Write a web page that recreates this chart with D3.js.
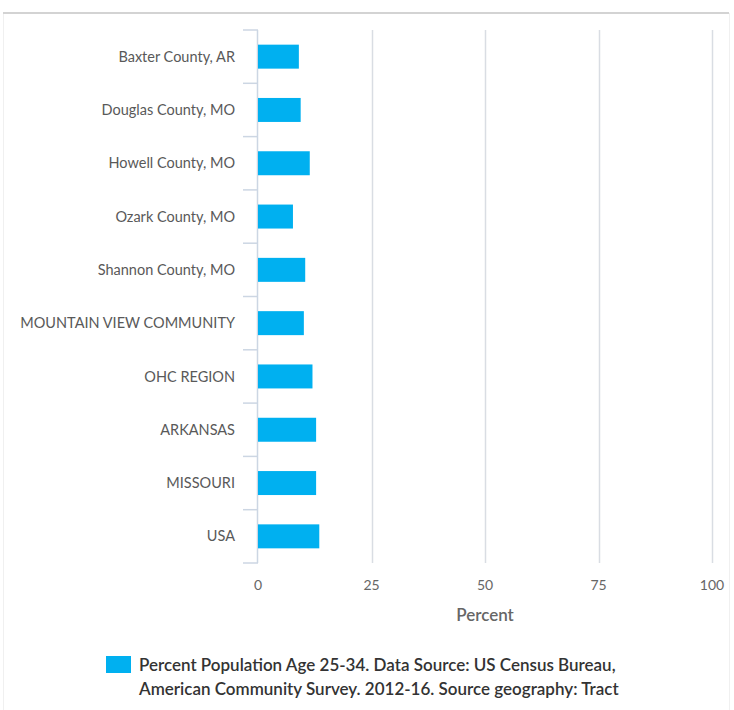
<!DOCTYPE html>
<html>
<head>
<meta charset="utf-8">
<script src="https://cdn.jsdelivr.net/npm/d3@7"></script>
<style>
  html, body { margin: 0; padding: 0; background: #fff; }
  svg { display: block; font-family: Lato, "Noto Sans", sans-serif; }
</style>
</head>
<body>
<svg id="chart" width="734" height="710"></svg>
<script>
// Share of population aged 25-34, by geography
const categories = [
  "Baxter County, AR",
  "Douglas County, MO",
  "Howell County, MO",
  "Ozark County, MO",
  "Shannon County, MO",
  "MOUNTAIN VIEW COMMUNITY",
  "OHC REGION",
  "ARKANSAS",
  "MISSOURI",
  "USA"
];
const values = [9.0, 9.4, 11.4, 7.7, 10.4, 10.1, 12.0, 12.8, 12.8, 13.5];
const xTicks = [0, 25, 50, 75, 100];
const xTitle = "Percent";
const legendLines = [
  "Percent Population Age 25-34. Data Source: US Census Bureau,",
  "American Community Survey. 2012-16. Source geography: Tract"
];

const svg = d3.select("#chart");

// panel frame
svg.append("line").attr("x1", 3.5).attr("x2", 3.5).attr("y1", 13).attr("y2", 710)
  .attr("stroke", "#f0f0f0").attr("stroke-width", 1);
svg.append("line").attr("x1", 729.5).attr("x2", 729.5).attr("y1", 13).attr("y2", 710)
  .attr("stroke", "#f0f0f0").attr("stroke-width", 1);
svg.append("line").attr("x1", 3).attr("x2", 729).attr("y1", 13).attr("y2", 13)
  .attr("stroke", "#d3d3d3").attr("stroke-width", 2);

const plot = { left: 258, right: 712, top: 30, bottom: 563 };

const x = d3.scaleLinear().domain([0, 100]).range([plot.left, plot.right]);
const y = d3.scaleBand().domain(categories).range([plot.top, plot.bottom]).paddingInner(0.55).paddingOuter(0.275);
const band = d3.scaleBand().domain(categories).range([plot.top, plot.bottom]);

// vertical gridlines
svg.append("g").selectAll("line").data(xTicks.filter(d => d > 0)).join("line")
  .attr("x1", d => Math.round(x(d)) + 0.5).attr("x2", d => Math.round(x(d)) + 0.5)
  .attr("y1", plot.top).attr("y2", plot.bottom)
  .attr("stroke", "#d9dde3").attr("stroke-width", 1.5);

// category axis line and separators
const axisColor = "#ccd6e3";
svg.append("line").attr("x1", plot.left - 0.5).attr("x2", plot.left - 0.5)
  .attr("y1", plot.top).attr("y2", plot.bottom)
  .attr("stroke", axisColor).attr("stroke-width", 1.5);
svg.append("g").selectAll("line").data(categories.concat([null])).join("line")
  .attr("x1", plot.left - 15).attr("x2", plot.left)
  .attr("y1", (d, i) => i < categories.length ? band(d) : plot.bottom)
  .attr("y2", (d, i) => i < categories.length ? band(d) : plot.bottom)
  .attr("stroke", axisColor).attr("stroke-width", 1.5);

// bars
svg.append("g").selectAll("rect").data(values).join("rect")
  .attr("x", x(0))
  .attr("y", (d, i) => y(categories[i]))
  .attr("width", d => x(d) - x(0))
  .attr("height", y.bandwidth())
  .attr("fill", "#00b0f0");

// category labels
svg.append("g").selectAll("text").data(categories).join("text")
  .attr("x", 235)
  .attr("y", d => band(d) + band.bandwidth() / 2)
  .attr("dy", "0.35em")
  .attr("text-anchor", "end")
  .attr("font-size", 14.5)
  .attr("fill", "#595959")
  .text(d => d);

// value axis labels
svg.append("g").selectAll("text").data(xTicks).join("text")
  .attr("x", d => x(d))
  .attr("y", 585)
  .attr("dy", "0.35em")
  .attr("text-anchor", "middle")
  .attr("font-size", 14)
  .attr("fill", "#666")
  .text(d => d);

svg.append("text")
  .attr("x", x(50)).attr("y", 615).attr("dy", "0.35em")
  .attr("text-anchor", "middle")
  .attr("font-size", 17).attr("font-weight", 600)
  .attr("fill", "#666")
  .text(xTitle);

// legend
svg.append("rect").attr("x", 106).attr("y", 656).attr("width", 25).attr("height", 17).attr("fill", "#00b0f0");
svg.append("g").selectAll("text").data(legendLines).join("text")
  .attr("x", 139)
  .attr("y", (d, i) => 665 + i * 24)
  .attr("dy", "0.35em")
  .attr("font-size", 17)
  .attr("font-weight", 600)
  .attr("fill", "#333")
  .text(d => d);
</script>
</body>
</html>
